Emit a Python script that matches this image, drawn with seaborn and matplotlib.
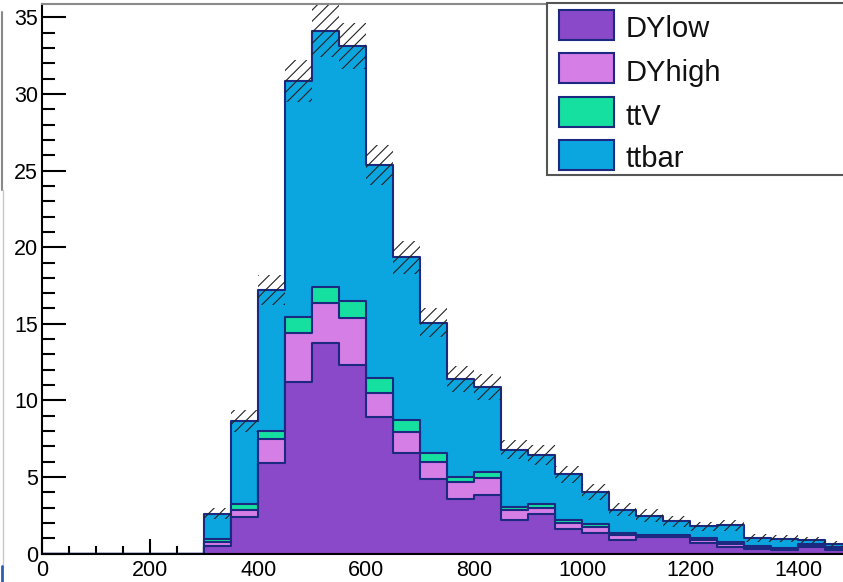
import numpy as np
import pandas as pd
import matplotlib
matplotlib.use("Agg")
import matplotlib.pyplot as plt
import seaborn as sns
from matplotlib.patches import Rectangle
from matplotlib.lines import Line2D
from matplotlib.ticker import MultipleLocator

# ---------------- data ----------------
# lower edges of the filled bins (width 50), the histogram itself spans 0..1500
bin_lows = [300, 350, 400, 450, 500, 550, 600, 650, 700, 750, 800, 850,
            900, 950, 1000, 1050, 1100, 1150, 1200, 1250, 1300, 1350, 1400, 1450]
DYlow = [0.50, 2.39, 5.88, 11.20, 13.76, 12.28, 8.92, 6.53, 4.85, 3.55, 3.85, 2.17,
         2.55, 1.57, 1.35, 0.91, 1.05, 1.05, 0.69, 0.43, 0.28, 0.20, 0.43, 0.26]
DYhigh = [0.23, 0.48, 1.57, 3.21, 2.61, 3.07, 1.53, 1.41, 1.13, 1.09, 1.05, 0.66,
          0.39, 0.39, 0.39, 0.27, 0.10, 0.10, 0.18, 0.17, 0.09, 0.08, 0.12, 0.07]
ttV = [0.20, 0.35, 0.56, 1.00, 1.00, 1.11, 0.98, 0.77, 0.55, 0.36, 0.39, 0.22,
       0.28, 0.26, 0.17, 0.13, 0.07, 0.07, 0.11, 0.15, 0.13, 0.09, 0.07, 0.07]
ttbar = [1.67, 5.42, 9.19, 15.44, 16.77, 16.68, 13.95, 10.62, 8.53, 6.38, 5.59, 3.74,
         3.20, 2.96, 2.11, 1.56, 1.26, 0.89, 0.80, 1.09, 0.53, 0.60, 0.25, 0.21]
stat_err = [0.35, 0.70, 1.00, 1.40, 1.70, 1.50, 1.30, 1.10, 0.95, 0.85, 0.85, 0.65,
            0.65, 0.55, 0.50, 0.40, 0.40, 0.35, 0.30, 0.35, 0.25, 0.25, 0.20, 0.20]
labels = ["DYlow", "DYhigh", "ttV", "ttbar"]
colors = ["#8a49c8", "#d47ee6", "#16e0a0", "#0ba5e0"]
x_ticks = [0, 200, 400, 600, 800, 1000, 1200, 1400]
y_ticks = [0, 5, 10, 15, 20, 25, 30, 35]

# ---------------- style ----------------
sns.set_style("ticks")
plt.rcParams["font.family"] = ["Liberation Sans", "DejaVu Sans"]
plt.rcParams["hatch.color"] = "black"
plt.rcParams["hatch.linewidth"] = 0.8

W, H = 843, 582
fig = plt.figure(figsize=(W / 100, H / 100), dpi=100)
x0, y0 = 42.3, 553.5
ax = fig.add_axes([x0 / W, (H - y0) / H, 810 / W, (y0 - 4) / H])

edges = [float(e) for e in range(0, 1550, 50)]
lows = np.array(bin_lows, dtype=float)
centers = lows + 25
navy = "#1b2a80"

comps = [np.array(DYlow), np.array(DYhigh), np.array(ttV), np.array(ttbar)]
cum = np.cumsum(np.vstack(comps), axis=0)

# draw the stack from the top layer down (ROOT THStack look)
for i in range(3, -1, -1):
    df = pd.DataFrame({"x": centers, "w": cum[i]})
    sns.histplot(data=df, x="x", weights="w", bins=edges, element="step", fill=True,
                 color=colors[i], alpha=1, edgecolor=navy, linewidth=1.5, ax=ax)

# hatched uncertainty band on the total
tot = cum[3]
err = np.array(stat_err)
band_x = np.append(lows, lows[-1] + 50)
lo = np.append(tot - err, (tot - err)[-1])
hi = np.append(tot + err, (tot + err)[-1])
ax.fill_between(band_x, lo, hi, step="post", facecolor="none", edgecolor="#222222",
                hatch="///", linewidth=0, zorder=5)

ax.set_xlim(0, 1500)
ax.set_ylim(0, 35.88)
ax.set_xlabel("")
ax.set_ylabel("")
ax.set_xticks(x_ticks)
ax.set_yticks(y_ticks)
ax.xaxis.set_minor_locator(MultipleLocator(50))
ax.yaxis.set_minor_locator(MultipleLocator(1))
ax.tick_params(axis="both", which="both", direction="in", colors="black",
               labelcolor="black", top=False, right=False, width=1.5, labelsize=15.5)
ax.tick_params(axis="y", which="major", length=17.5, pad=3)
ax.tick_params(axis="y", which="minor", length=9)
ax.tick_params(axis="x", which="major", length=10.5, pad=5)
ax.tick_params(axis="x", which="minor", length=6)
for s in ["left", "bottom"]:
    ax.spines[s].set_color("black")
    ax.spines[s].set_linewidth(1.5)
for s in ["top", "right"]:
    ax.spines[s].set_visible(True)
    ax.spines[s].set_color("#8a8a8a")
    ax.spines[s].set_linewidth(1.5)


def fx(x):
    return x / W


def fy(y):
    return 1 - y / H


# legend (ROOT TLegend look)
fig.add_artist(Rectangle((fx(547), fy(175)), fx(870) - fx(547), fy(3) - fy(175),
                         transform=fig.transFigure, facecolor="white",
                         edgecolor="#555555", linewidth=1.5, zorder=10))
patch_tops = [10, 53, 97, 140]
baselines = [37, 81, 125, 167]
for lab, col, pt, bl in zip(labels, colors, patch_tops, baselines):
    fig.add_artist(Rectangle((fx(559), fy(pt + 30)), fx(614) - fx(559), fy(pt) - fy(pt + 30),
                             transform=fig.transFigure, facecolor=col,
                             edgecolor=navy, linewidth=1.5, zorder=11))
    fig.text(fx(626), fy(bl), lab, fontsize=21, va="baseline", ha="left",
             color="#111111", zorder=12)

# remnants of the neighbouring pad at the left edge
fig.add_artist(Line2D([fx(2), fx(2)], [fy(12), fy(190)], color="#888888", lw=1.5))
fig.add_artist(Line2D([fx(2.5), fx(2.5)], [fy(190), fy(566)], color="#c8c8c8", lw=1))
fig.add_artist(Line2D([fx(2), fx(2)], [fy(566), fy(582)], color="#2a5db0", lw=2))

fig.savefig("out.png", dpi=100)
